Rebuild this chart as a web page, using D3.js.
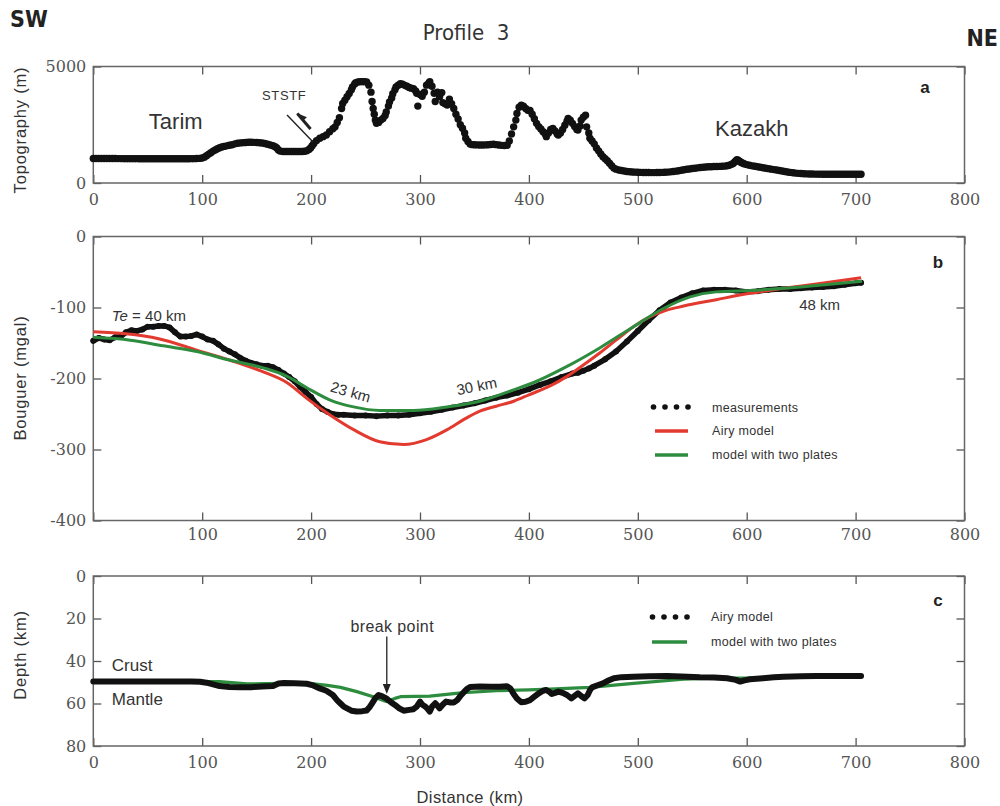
<!DOCTYPE html>
<html>
<head>
<meta charset="utf-8">
<script src="https://cdn.jsdelivr.net/npm/d3@7"></script>
<style>
  body { margin: 0; background: #fff; }
  svg { display: block; }
  .tick text { font-family: "DejaVu Serif", "Liberation Serif", serif; font-size: 16px; fill: #555; }
  .tick line { stroke: #555; stroke-width: 1.3; }
  .sans { font-family: "Liberation Sans", Arial, sans-serif; fill: #333; }
  .narrow { font-family: "Liberation Sans Narrow", "DejaVu Sans Condensed", "Liberation Sans", sans-serif; fill: #333; }
</style>
</head>
<body>
<svg id="chart" width="1000" height="806"></svg>
<script>
// ---- distance axis ----
const distanceTicks = [0, 100, 200, 300, 400, 500, 600, 700, 800];

// ---- (a) topography along the profile: [distance km, elevation m] ----
const topography = [
  [0,1050],[2.5,1050],[5,1050],[7.5,1050],[10,1050],[12.5,1050],[15,1050],[17.5,1050],[20,1050],
  [22.5,1048],[25,1048],[27.5,1046],[30,1045],[32.5,1045],[35,1045],[37.5,1045],[40,1045],[42.5,1043],
  [45,1042],[47.5,1041],[50,1040],[52.5,1040],[55,1040],[57.5,1040],[60,1040],[62.5,1040],[65,1040],
  [67.5,1040],[70,1040],[72.5,1040],[75,1040],[77.5,1040],[80,1040],[82.5,1040],[85,1040],[87.5,1041],
  [90,1045],[92.5,1046],[95,1050],[97.5,1055],[100,1070],[102,1110],[104,1170],[106,1240],[108,1300],
  [110,1370],[112,1420],[114,1470],[116,1510],[118,1545],[120,1570],[122.5,1595],[125,1620],[127.5,1640],
  [130,1680],[132.5,1705],[135,1720],[137.5,1732],[140,1740],[142.5,1748],[145,1750],[147.5,1745],
  [150,1738],[152.5,1730],[155,1715],[157.5,1695],[160,1665],[162.5,1630],[165,1600],[167,1560],
  [168.5,1500],[170,1420],[171.5,1370],[174,1350],[176,1350],[178,1350],[180,1350],[182,1350],[184,1350],
  [186,1350],[188,1350],[190,1352],[192,1355],[194,1362],[196,1380],[198,1440],[199.5,1500],[201,1600],
  [202.5,1700],[205,1820],[208,1920],[211,1990],[214,2060],[217,2200],[220,2330],[222,2410],
  [224,2600],[226,2800],[228,3200],[229,3410],[231,3550],[233,3700],[235,3840],[237,4000],[238,4120],
  [240,4250],[241,4300],[243,4340],[245,4350],[247,4350],[249,4350],[251,4340],[253,4200],[255,3900],
  [256,3500],[257,3200],[258,2950],[259,2700],[260,2560],[262,2600],[264,2700],[266,2770],[268,2900],
  [269,3050],[271,3300],[272,3480],[274,3650],[275,3830],[277,4000],[278,4120],[280,4200],[282,4260],
  [284,4240],[286,4190],[288,4150],[290,4100],[292,4070],[294,4050],[296,3950],[297,3850],[298,3300],
  [300,3800],[302,3720],[304,3900],[306,4200],[308,4280],[309,4350],[311,4150],[313,3850],[314,3500],
  [316,3900],[318,3700],[320,3880],[321,3450],[323,3400],[325,3350],[327,3600],[329,3400],[331,3200],
  [333,2950],[335,2750],[337,2500],[339,2350],[341,2150],[342,1920],[344,1780],[346,1670],[348,1645],
  [350,1640],[352.5,1635],[355,1630],[357.5,1630],[360,1635],[362.5,1640],[365,1650],[367.5,1660],
  [370,1645],[372.5,1630],[375,1615],[377.5,1610],[380,1620],[382,1800],
  [384,2100],[386,2410],[388,2700],[389,2980],[391,3250],[393,3340],[395,3300],[397,3200],[399,3120],
  [401,3110],[403,2950],[405,2760],[407,2560],[409,2420],[411,2320],[413,2200],[415,2100],[416,1990],
  [418,2150],[420,2300],[422,2340],[424,2230],[426,2100],[427,2060],[429,2150],[431,2300],[433,2480],
  [435,2650],[436,2770],[438,2700],[440,2560],[442,2420],[444,2300],[445,2270],[447,2450],[448,2700],
  [450,2820],[452,2910],[453,2410],[455,2150],[456,1920],[458,1800],[460,1680],[462,1500],[464,1380],
  [466,1250],[468,1130],[470,1040],[472,960],[474,850],[476,740],[478,640],[480,595],[482.5,560],
  [485,535],[487.5,515],[490,495],[492.5,483],[495,474],[497.5,466],[500,460],[502.5,456],[505,452],
  [507.5,450],[510,448],[512.5,447],[515,447],[517.5,448],[520,451],[522.5,455],[525,460],[527.5,468],
  [530,478],[532.5,492],[535,508],[537.5,528],[540,548],[542.5,568],[545,588],[547.5,604],[550,620],
  [552.5,636],[555,650],[557.5,663],[560,675],[562.5,686],[565,695],[567.5,700],[570,705],[572.5,708],
  [575,712],[577.5,718],[580,725],[582,740],[584,760],[586,800],[587.5,840],[589,900],[590,950],
  [591,1000],[592,980],[593,950],[594,910],[595,880],[596.5,850],[598,820],[600,790],[602.5,760],
  [605,735],[607.5,718],[610,700],[612.5,678],[615,655],[617.5,635],[620,615],[622.5,595],[625,575],
  [627.5,555],[630,535],[632.5,515],[635,495],[637.5,475],[640,455],[642.5,440],[645,425],[647.5,414],
  [650,405],[652.5,398],[655,392],[657.5,388],[660,385],[662.5,382],[665,380],[667.5,379],[670,378],
  [672.5,377],[675,376],[677.5,375],[680,375],[682.5,375],[685,375],[687.5,375],[690,375],[692.5,375],
  [695,375],[697.5,375],[700,375],[702.5,375],[705,375]
];

// ---- (b) Bouguer gravity: [distance km, mgal] ----
const bouguerMeasured = [
  [0,-147],[5,-143],[10,-145],[15,-146],[20,-142],[25,-141],[30,-135],[35,-132],[40,-133],[45,-131],
  [50,-127],[55,-127],[60,-126],[65,-126],[70,-128],[75,-135],[80,-141],[85,-141],[90,-140],[95,-138],
  [100,-141],[105,-145],[110,-147],[115,-152],[120,-158],[125,-162],[130,-166],[135,-171],[140,-175],
  [145,-178],[150,-180],[155,-182],[160,-182],[165,-184],[170,-188],[175,-193],[180,-198],[185,-204],
  [190,-212],[195,-219],[200,-226],[205,-236],[210,-243],[215,-247],[220,-250],[225,-251],[230,-251],
  [240,-252],[250,-252],[260,-253],[270,-252],[280,-252],[290,-251],[300,-249],[310,-247],[320,-244],
  [330,-241],[340,-238],[350,-235],[360,-231],[370,-227],[380,-224],[390,-220],[400,-215],[410,-209],
  [420,-204],[430,-198],[440,-193],[445,-192],[450,-189],[455,-186],[460,-182],[470,-173],[480,-162],
  [490,-148],[500,-133],[510,-118],[520,-104],[530,-93],[540,-86],[550,-80],[560,-76],[570,-75],
  [580,-75],[590,-76],[600,-78],[610,-77],[620,-75],[630,-74],[640,-74],[650,-73],[660,-72],[670,-71],
  [680,-70],[690,-68],[700,-66],[705,-65]
];
const bouguerAiry = [
  [0,-134],[30,-137],[60,-144],[95,-160],[125,-174],[155,-190],[178,-206],[196,-228],[217,-251],
  [239,-272],[263,-289],[285,-293],[306,-286],[325,-272],[340,-258],[355,-246],[370,-239],[386,-232],
  [400,-223],[420,-210],[435,-197],[450,-181],[465,-164],[480,-146],[496,-127],[510,-114],[524,-105],
  [542,-98],[572,-89],[603,-80],[634,-73],[664,-67],[705,-58]
];
const bouguerTwoPlates = [
  [0,-142],[34,-146],[64,-154],[95,-162],[125,-174],[156,-185],[178,-197],[196,-213],[217,-230],
  [239,-240],[263,-245],[294,-245],[325,-240],[355,-232],[386,-216],[404,-206],[435,-183],[465,-157],
  [496,-127],[524,-101],[548,-85],[572,-78],[603,-76],[634,-73],[664,-69],[706,-63]
];

// ---- (c) Moho depth: [distance km, depth km] ----
const mohoAiry = [
  [0,49.7],[10,49.7],[20,49.7],[30,49.7],[40,49.7],[50,49.7],[60,49.7],[70,49.7],[80,49.7],[90,49.7],
  [98,49.8],[104,50.2],[110,51],[116,51.8],[125,52.2],[135,52.4],[145,52.3],[155,52],[165,51.8],
  [170,50.6],[175,50.4],[185,50.5],[196,50.7],[202,51.5],[208,52.9],[214,54],[220,56],[224,58.5],
  [227,60],[230,61.5],[233,62.3],[237,63.4],[242,63.8],[247,63.6],[251,63.3],[254,61.5],[256,59.9],
  [259,57.5],[262,56],[265,56.5],[269,57.6],[273,59.3],[277,60.7],[281,62.3],[285,63.4],[290,63],
  [294,62.7],[297,61.5],[300,59.1],[302,60.5],[305,61.5],[307,62.5],[309,63.8],[311,61.5],[314,59.9],
  [316,61],[318,62.3],[321,60.5],[324,59.1],[328,59.5],[331,59.5],[334,58.5],[337,56.5],[340,54.8],
  [343,53.2],[346,52.2],[355,52],[365,52.1],[373,52.1],[380,51.9],[383,52.9],[386,55.5],[389,57.6],
  [393,59.4],[397,59.2],[401,58.4],[405,56.8],[409,55.2],[413,54],[416,53.6],[419,54.6],[421,55.5],
  [424,55],[427,54.4],[431,55],[435,56],[439,57.6],[442,56.4],[445,55.2],[448,56.5],[451,57.6],
  [454,56],[456,53.8],[458,52.4],[463,51.4],[468,50.5],[473,49.2],[478,48.1],[485,47.6],[496,47.4],
  [510,47.2],[527,47.1],[540,47.3],[557,47.7],[570,47.8],[582,48.1],[590,48.9],[594,49.7],[598,49.1],
  [603,48.6],[615,48.1],[625,47.7],[634,47.4],[650,47.2],[664,47.1],[680,47.1],[695,47.1],[705,47.1]
];
const mohoTwoPlates = [
  [0,49.7],[116,49.7],[141,50.8],[172,50.5],[202,50.8],[215,51.5],[227,52.4],[242,54.4],[257,56.8],
  [269,59.1],[273,58.4],[277,57.6],[282,56.8],[309,56.5],[340,54.9],[370,54],[400,53.6],[419,53.2],
  [456,52.4],[496,50.5],[542,48.6],[572,48.1],[600,48],[640,47.5],[705,47.2]
];

const topoTicks = [0, 5000];
const bouguerTicks = [0, -100, -200, -300, -400];
const depthTicks = [0, 20, 40, 60, 80];

const RED = "#e23a2f", GREEN = "#2d8c3e";

const svg = d3.select("#chart");

// shared distance scale
const x = d3.scaleLinear().domain([0, 800]).range([93.3, 964.5]);

const yTopo = d3.scaleLinear().domain([0, 5000]).range([183, 66.5]);
const yBoug = d3.scaleLinear().domain([-400, 0]).range([520.5, 236.5]);
const yDepth = d3.scaleLinear().domain([0, 80]).range([576, 746]);

// frame with inward ticks on all four sides
function panel(y, yTicks, xLabelTicks, xPad) {
  const [x0, x1] = x.range();
  const [yb, yt] = [Math.max(...y.range()), Math.min(...y.range())];
  const g = svg.append("g");

  g.append("g").attr("transform", `translate(0,${yb})`)
    .call(d3.axisBottom(x).tickValues(distanceTicks).tickSizeInner(-8).tickSizeOuter(0).tickPadding(xPad)
      .tickFormat(d => xLabelTicks.includes(d) ? String(d) : ""))
    .call(a => a.select(".domain").remove());
  g.append("g").attr("transform", `translate(0,${yt})`)
    .call(d3.axisTop(x).tickValues(distanceTicks).tickSizeInner(-8).tickSizeOuter(0).tickFormat(""))
    .call(a => a.select(".domain").remove());
  g.append("g").attr("transform", `translate(${x0},0)`)
    .call(d3.axisLeft(y).tickValues(yTicks).tickSizeInner(-8).tickSizeOuter(0).tickPadding(7)
      .tickFormat(d => String(d)))
    .call(a => a.select(".domain").remove());
  g.append("g").attr("transform", `translate(${x1},0)`)
    .call(d3.axisRight(y).tickValues(yTicks).tickSizeInner(-8).tickSizeOuter(0).tickFormat(""))
    .call(a => a.select(".domain").remove());

  g.append("rect").attr("x", x0).attr("y", yt).attr("width", x1 - x0).attr("height", yb - yt)
    .attr("fill", "none").attr("stroke", "#666").attr("stroke-width", 1.5);
  return g;
}

panel(yTopo, topoTicks, distanceTicks, 11);
panel(yBoug, bouguerTicks, distanceTicks.filter(d => d > 0), 8);
panel(yDepth, depthTicks, distanceTicks, 11);

// ---- (a) topography dots ----
const ga = svg.append("g");
ga.selectAll("circle").data(topography).join("circle")
  .attr("cx", d => x(d[0])).attr("cy", d => yTopo(d[1])).attr("r", 3.7).attr("fill", "#111");

// ---- (b) gravity curves ----
const gb = svg.append("g");
const lineB = d3.line().x(d => x(d[0])).y(d => yBoug(d[1]));
gb.append("path").datum(bouguerMeasured).attr("d", lineB)
  .attr("fill", "none").attr("stroke", "#111").attr("stroke-width", 5.5)
  .attr("stroke-linejoin", "round").attr("stroke-linecap", "round");
gb.selectAll("circle").data(bouguerMeasured).join("circle")
  .attr("cx", d => x(d[0])).attr("cy", d => yBoug(d[1])).attr("r", 3).attr("fill", "#111");
const smoothB = d3.line().x(d => x(d[0])).y(d => yBoug(d[1])).curve(d3.curveMonotoneX);
gb.append("path").datum(bouguerAiry).attr("d", smoothB)
  .attr("fill", "none").attr("stroke", RED).attr("stroke-width", 3);
gb.append("path").datum(bouguerTwoPlates).attr("d", smoothB)
  .attr("fill", "none").attr("stroke", GREEN).attr("stroke-width", 3);

// ---- (c) Moho depth ----
const gc = svg.append("g");
const lineC = d3.line().x(d => x(d[0])).y(d => yDepth(d[1]));
gc.append("path").datum(mohoTwoPlates).attr("d", lineC)
  .attr("fill", "none").attr("stroke", GREEN).attr("stroke-width", 3.2).attr("stroke-linejoin", "round");
gc.append("path").datum(mohoAiry).attr("d", lineC)
  .attr("fill", "none").attr("stroke", "#111").attr("stroke-width", 6)
  .attr("stroke-linejoin", "round").attr("stroke-linecap", "round");

// ---- titles ----
svg.append("text").attr("class", "narrow").attr("x", 10).attr("y", 27)
  .attr("font-size", 23).attr("font-weight", "bold").style("fill", "#222").text("SW");
svg.append("text").attr("class", "narrow").attr("x", 998).attr("y", 46).attr("text-anchor", "end")
  .attr("font-size", 23).attr("font-weight", "bold").style("fill", "#222").text("NE");
svg.append("text").attr("class", "narrow").attr("x", 466).attr("y", 40).attr("text-anchor", "middle")
  .attr("font-size", 22).attr("xml:space", "preserve").text("Profile  3");

// axis titles
function yTitle(label, cy) {
  svg.append("text").attr("class", "sans").attr("transform", `translate(26,${cy}) rotate(-90)`)
    .attr("text-anchor", "middle").attr("font-size", 16.5).attr("letter-spacing", 0.8).text(label);
}
yTitle("Topography (m)", 130);
yTitle("Bouguer (mgal)", 378);
yTitle("Depth (km)", 655);
svg.append("text").attr("class", "sans").attr("x", 470).attr("y", 803).attr("text-anchor", "middle")
  .attr("font-size", 16.5).attr("letter-spacing", 0.4).text("Distance (km)");

// panel letters
[["a", 925, 93], ["b", 938, 268], ["c", 938, 606]].forEach(([t, px, py]) =>
  svg.append("text").attr("class", "sans").attr("x", px).attr("y", py).attr("text-anchor", "middle")
    .attr("font-size", 17).attr("font-weight", "bold").style("fill", "#222").text(t));

// ---- annotations, panel a ----
svg.append("text").attr("class", "sans").attr("x", x(51)).attr("y", yTopo(2300))
  .attr("font-size", 22).text("Tarim");
svg.append("text").attr("class", "sans").attr("x", x(571)).attr("y", yTopo(2000))
  .attr("font-size", 22).text("Kazakh");
svg.append("text").attr("class", "sans").attr("x", x(155)).attr("y", yTopo(3550))
  .attr("font-size", 13).attr("letter-spacing", 0.6).style("fill", "#333").text("STSTF");
// fault trace with sense-of-motion arrow
svg.append("line").attr("x1", x(177.9)).attr("y1", yTopo(2920)).attr("x2", x(201.8)).attr("y2", yTopo(1760))
  .attr("stroke", "#222").attr("stroke-width", 1.4);
{
  const ax1 = x(185.5), ay1 = yTopo(3070), ax2 = x(199.5), ay2 = yTopo(2320);
  svg.append("line").attr("x1", ax1 + 2).attr("y1", ay1 + 2).attr("x2", ax2).attr("y2", ay2)
    .attr("stroke", "#222").attr("stroke-width", 3);
  const ang = Math.atan2(ay1 - ay2, ax1 - ax2);
  const L = 10, W = 5;
  const tip = [ax1 - 2 * Math.cos(ang), ay1 - 2 * Math.sin(ang)];
  const base = [tip[0] - L * Math.cos(ang), tip[1] - L * Math.sin(ang)];
  const nx = -Math.sin(ang), ny = Math.cos(ang);
  svg.append("path")
    .attr("d", `M${tip[0]},${tip[1]}L${base[0] + nx * W},${base[1] + ny * W}L${base[0]},${base[1]}Z`)
    .attr("fill", "#222");
}

// ---- annotations, panel b ----
const te = svg.append("text").attr("class", "sans").attr("x", x(17)).attr("y", yBoug(-119)).attr("font-size", 15);
te.append("tspan").attr("font-style", "italic").text("Te");
te.append("tspan").text(" = 40 km");
svg.append("text").attr("class", "sans").attr("font-size", 15).attr("text-anchor", "middle")
  .attr("transform", `translate(${x(235)},${yBoug(-226)}) rotate(16)`).text("23 km");
svg.append("text").attr("class", "sans").attr("font-size", 15).attr("text-anchor", "middle")
  .attr("transform", `translate(${x(353)},${yBoug(-218)}) rotate(-11)`).text("30 km");
svg.append("text").attr("class", "sans").attr("font-size", 15).attr("text-anchor", "middle")
  .attr("x", x(667)).attr("y", yBoug(-103)).text("48 km");

// legend b
{
  const g = svg.append("g");
  [653.5, 665, 676.5, 688].forEach(cx =>
    g.append("circle").attr("cx", cx).attr("cy", 407).attr("r", 2.8).attr("fill", "#111"));
  g.append("line").attr("x1", 655).attr("x2", 688).attr("y1", 431).attr("y2", 431).attr("stroke", RED).attr("stroke-width", 3.5);
  g.append("line").attr("x1", 655).attr("x2", 688).attr("y1", 455).attr("y2", 455).attr("stroke", GREEN).attr("stroke-width", 3.5);
  [["measurements", 411.5], ["Airy model", 435], ["model with two plates", 459]].forEach(([t, ty]) =>
    g.append("text").attr("class", "sans").attr("x", 712).attr("y", ty).attr("font-size", 12.5)
      .attr("letter-spacing", 0.3).text(t));
}

// ---- annotations, panel c ----
svg.append("text").attr("class", "sans").attr("x", x(17)).attr("y", yDepth(44.8)).attr("font-size", 17).text("Crust");
svg.append("text").attr("class", "sans").attr("x", x(17)).attr("y", yDepth(60.8)).attr("font-size", 17).text("Mantle");
svg.append("text").attr("class", "sans").attr("x", x(274.5)).attr("y", yDepth(26.2)).attr("text-anchor", "middle")
  .attr("font-size", 16).attr("letter-spacing", 0.4).text("break point");
{
  const bx = x(269.5), by0 = yDepth(28.5), by1 = yDepth(55.5);
  svg.append("line").attr("x1", bx).attr("x2", bx).attr("y1", by0).attr("y2", by1 - 8)
    .attr("stroke", "#222").attr("stroke-width", 1.3);
  svg.append("path").attr("d", `M${bx - 4},${by1 - 10}L${bx + 4},${by1 - 10}L${bx},${by1}Z`).attr("fill", "#222");
}

// legend c
{
  const g = svg.append("g");
  [652.5, 664, 675.5, 687].forEach(cx =>
    g.append("circle").attr("cx", cx).attr("cy", 617).attr("r", 2.8).attr("fill", "#111"));
  g.append("line").attr("x1", 652).attr("x2", 687).attr("y1", 642).attr("y2", 642).attr("stroke", GREEN).attr("stroke-width", 3.5);
  [["Airy model", 621], ["model with two plates", 646]].forEach(([t, ty]) =>
    g.append("text").attr("class", "sans").attr("x", 711).attr("y", ty).attr("font-size", 12.5)
      .attr("letter-spacing", 0.3).text(t));
}
</script>
</body>
</html>
